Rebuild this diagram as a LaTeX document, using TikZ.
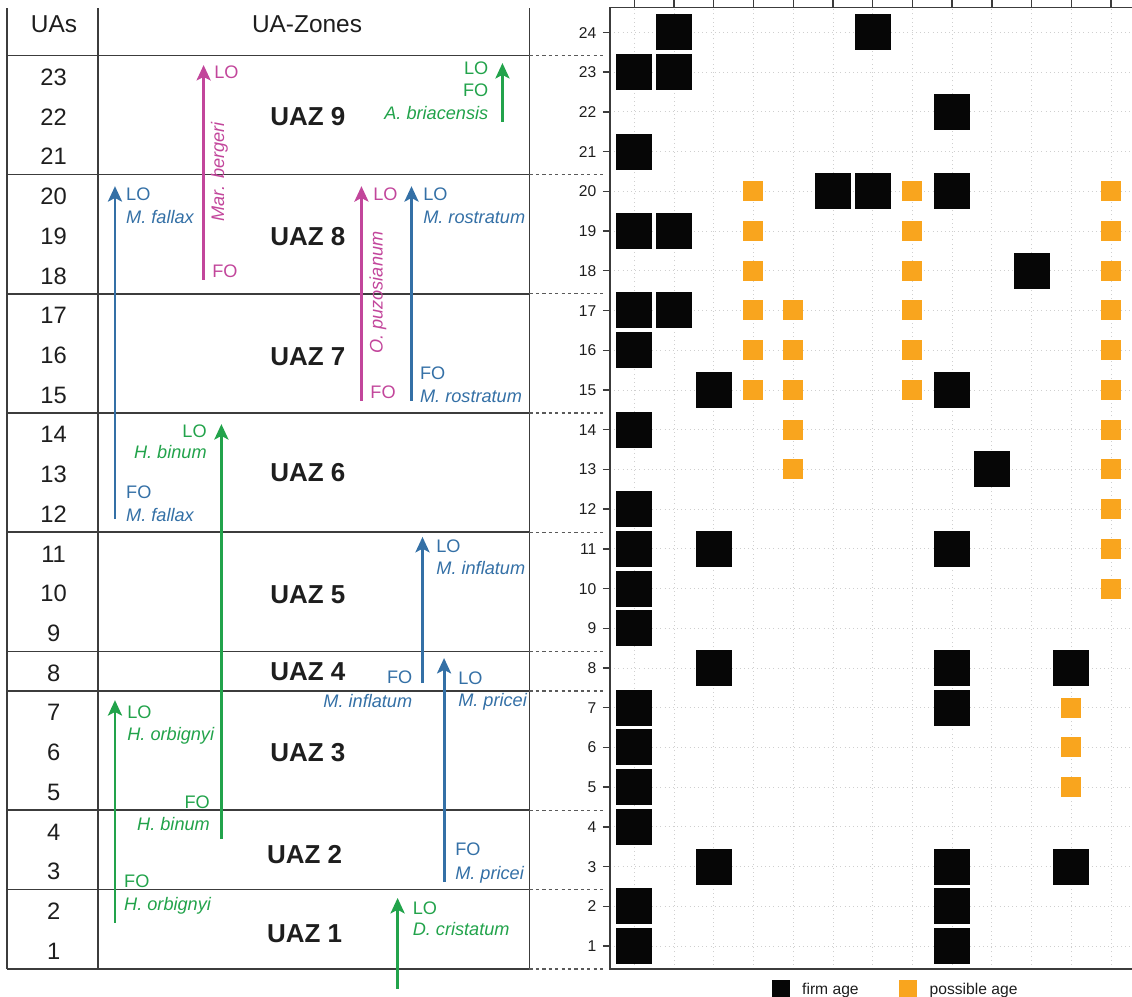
\documentclass[tikz,border=0pt]{standalone}
\usepackage{fontspec}
\setmainfont{Liberation Sans}
\usepackage{tikz}
\usetikzlibrary{arrows.meta}
\usetikzlibrary{positioning}

\definecolor{rulegray}{HTML}{3C3C3C}
\definecolor{tiegray}{HTML}{5A5A5A}
\definecolor{inkgray}{HTML}{1E1E1E}
\definecolor{gridgray}{HTML}{CFCFCF}
\definecolor{taxgreen}{HTML}{22A34B}
\definecolor{taxblue}{HTML}{3470A6}
\definecolor{taxpink}{HTML}{C2469B}
\definecolor{firmblack}{HTML}{060606}
\definecolor{possorange}{HTML}{F9A51E}

\newcommand\headfont{\fontsize{17.5}{21}\selectfont}
\newcommand\numfont{\fontsize{17}{20}\selectfont}
\newcommand\zonefont{\fontsize{18.6}{22}\selectfont\bfseries}
\newcommand\tagfont{\fontsize{13}{15}\selectfont}
\newcommand\tickfont{\fontsize{11.2}{13}\selectfont}

\tikzset{
  zonerule/.style={rulegray, line width=1.1pt},
  zonetie/.style={tiegray, line width=0.8pt, dash pattern=on 2.3pt off 2.3pt},
  lifespan/.style={line width=2.1pt, -{Stealth[length=11pt,width=10pt,inset=2.5pt]}},
  event/.style={inner sep=0pt, text height=9.3pt, text depth=0pt, font=\tagfont},
  taxon/.style={event, font=\tagfont\itshape},
  headtext/.style={inner sep=0pt, text height=12.5pt, text depth=0pt, text=inkgray, font=\headfont},
  uanum/.style={inner sep=0pt, text height=12.2pt, text depth=0pt, text=inkgray, font=\numfont},
  zonename/.style={inner sep=0pt, anchor=west, text height=13.3pt, text depth=0pt, text=inkgray, font=\zonefont},
  firm/.style={fill=firmblack, minimum size=0.906cm, inner sep=0pt},
  possible/.style={fill=possorange, minimum size=0.503cm, inner sep=0pt},
  gridline/.style={gridgray, line width=0.6pt, dash pattern=on 0.6pt off 2.4pt},
  axisline/.style={rulegray, line width=1pt},
  ticklabel/.style={inner sep=0pt, anchor=east, text height=8pt, text depth=0pt, text=inkgray, font=\tickfont},
  keytext/.style={inner sep=0pt, anchor=base west, text=inkgray, font=\tickfont},
}

% one taxon range: colour, name, x, first occurrence, last occurrence
\newcommand\taxrange[5]{
  \coordinate (#2-fo) at (#3,#4);
  \coordinate (#2-lo) at (#3,#5);
  \draw[lifespan, #1] (#2-fo) -- (#2-lo);
}

\begin{document}
\begin{tikzpicture}
  \useasboundingbox (0,-0.259) rectangle (28.50,24.817);

  % table of unitary associations
  \begin{scope}[yshift=-0.08cm]

    \foreach \x in {0.18,2.47,13.33} {
      \draw[zonerule] (\x,0.5) -- (\x,24.7);
    }
    \foreach \b in {23.5,20.5,17.5,14.5,11.5,8.5,7.5,4.5,2.5,0.5} {
      \draw[zonerule] (0.18,\b) -- (13.33,\b);
      \draw[zonetie] (13.33,\b) -- (15.23,\b);
    }

    \node[headtext] (uas) at (1.36,24.31) {UAs};
    \node[headtext] (uazones) at (7.73,24.31) {UA-Zones};

    \foreach \i in {1,...,23} {
      \node[uanum] (ua\i) at (1.35,\i-0.04) {\i};
    }

    \foreach \z/\y/\x in {9/21.98/6.80,8/18.95/6.80,7/15.93/6.80,6/13.0/6.80,
                          5/9.94/6.80,4/8.0/6.80,3/5.96/6.80,2/3.40/6.72,1/1.41/6.72} {
      \node[zonename] (uaz\z) at (\x,\y) {UAZ \z};
    }

    \taxrange{taxpink}{bergeri}{5.126}{17.85}{23.26}
    \node[event, taxpink, anchor=west] (bergeri-lotag) at (5.39,23.08) {LO};
    \node[event, taxpink, anchor=west] (bergeri-fotag) at (5.34,18.07) {FO};
    \node[taxon, taxpink, rotate=90] (bergeri-name) at (5.48,20.57) {Mar. bergeri};

    \taxrange{taxgreen}{briacensis}{12.65}{21.83}{23.31}
    \node[event, taxgreen, anchor=east] (briacensis-lotag) at (12.30,23.18) {LO};
    \node[event, taxgreen, anchor=east] (briacensis-fotag) at (12.30,22.63) {FO};
    \node[taxon, taxgreen, anchor=east] (briacensis-name) at (12.30,22.05) {A. briacensis};

    \taxrange{taxblue}{fallax}{2.895}{11.83}{20.21}
    \node[event, taxblue, anchor=west] (fallax-lotag) at (3.17,20.01) {LO};
    \node[taxon, taxblue, anchor=west] (fallax-loname) at (3.17,19.43) {M. fallax};
    \node[event, taxblue, anchor=west] (fallax-fotag) at (3.17,12.51) {FO};
    \node[taxon, taxblue, anchor=west] (fallax-foname) at (3.17,11.93) {M. fallax};

    \taxrange{taxpink}{puzosianum}{9.10}{14.81}{20.21}
    \node[event, taxpink, anchor=west] (puzosianum-lotag) at (9.39,20.01) {LO};
    \node[event, taxpink, anchor=west] (puzosianum-fotag) at (9.32,15.04) {FO};
    \node[taxon, taxpink, rotate=90] (puzosianum-name) at (9.47,17.53) {O. puzosianum};

    \taxrange{taxblue}{rostratum}{10.36}{14.81}{20.21}
    \node[event, taxblue, anchor=west] (rostratum-lotag) at (10.65,20.01) {LO};
    \node[taxon, taxblue, anchor=west] (rostratum-loname) at (10.65,19.43) {M. rostratum};
    \node[event, taxblue, anchor=west] (rostratum-fotag) at (10.57,15.51) {FO};
    \node[taxon, taxblue, anchor=west] (rostratum-foname) at (10.57,14.93) {M. rostratum};

    \taxrange{taxgreen}{binum}{5.574}{3.77}{14.22}
    \node[event, taxgreen, anchor=east] (binum-lotag) at (5.21,14.05) {LO};
    \node[taxon, taxgreen, anchor=east] (binum-loname) at (5.21,13.52) {H. binum};
    \node[event, taxgreen, anchor=east] (binum-fotag) at (5.29,4.71) {FO};
    \node[taxon, taxgreen, anchor=east] (binum-foname) at (5.29,4.15) {H. binum};

    \taxrange{taxblue}{inflatum}{10.637}{7.70}{11.38}
    \node[event, taxblue, anchor=west] (inflatum-lotag) at (10.98,11.15) {LO};
    \node[taxon, taxblue, anchor=west] (inflatum-loname) at (10.98,10.60) {M. inflatum};
    \node[event, taxblue, anchor=east] (inflatum-fotag) at (10.385,7.85) {FO};
    \node[taxon, taxblue, anchor=east] (inflatum-foname) at (10.385,7.26) {M. inflatum};

    \taxrange{taxblue}{pricei}{11.18}{2.69}{8.33}
    \node[event, taxblue, anchor=west] (pricei-lotag) at (11.53,7.83) {LO};
    \node[taxon, taxblue, anchor=west] (pricei-loname) at (11.53,7.27) {M. pricei};
    \node[event, taxblue, anchor=west] (pricei-fotag) at (11.455,3.52) {FO};
    \node[taxon, taxblue, anchor=west] (pricei-foname) at (11.455,2.92) {M. pricei};

    \taxrange{taxgreen}{orbignyi}{2.895}{1.66}{7.27}
    \node[event, taxgreen, anchor=west] (orbignyi-lotag) at (3.20,6.97) {LO};
    \node[taxon, taxgreen, anchor=west] (orbignyi-loname) at (3.20,6.42) {H. orbignyi};
    \node[event, taxgreen, anchor=west] (orbignyi-fotag) at (3.12,2.72) {FO};
    \node[taxon, taxgreen, anchor=west] (orbignyi-foname) at (3.12,2.14) {H. orbignyi};

    \taxrange{taxgreen}{cristatum}{10.01}{0.0}{2.29}
    \node[event, taxgreen, anchor=west] (cristatum-lotag) at (10.385,2.04) {LO};
    \node[taxon, taxgreen, anchor=west] (cristatum-loname) at (10.385,1.51) {D. cristatum};

  \end{scope}

  % age plot
  \begin{scope}[shift={(14.97,0)}]

    \foreach \c in {1,...,13} {
      \draw[gridline] (\c,0.42) -- (\c,24.63);
      \draw[axisline] (\c,24.63) -- (\c,24.82);
    }
    \foreach \r in {1,...,24} {
      \draw[gridline] (0.39,\r) -- (13.53,\r);
      \draw[axisline] (0.21,\r) -- (0.39,\r);
      \node[ticklabel] (age\r) at (0.05,\r) {\r};
    }
    \draw[axisline] (13.53,24.63) -- (0.39,24.63) -- (0.39,0.42) -- (13.53,0.42);

    \foreach \r/\cols in {24/{2,7},23/{1,2},22/{9},21/{1},20/{6,7,9},19/{1,2},18/{11},
                          17/{1,2},16/{1},15/{3,9},14/{1},13/{10},12/{1},11/{1,3,9},
                          10/{1},9/{1},8/{3,9,12},7/{1,9},6/{1},5/{1},4/{1},3/{3,9,12},
                          2/{1,9},1/{1,9}} {
      \foreach \c in \cols {
        \node[firm] (firm-\r-\c) at (\c,\r) {};
      }
    }

    \foreach \r/\cols in {20/{4,8,13},19/{4,8,13},18/{4,8,13},17/{4,5,8,13},16/{4,5,8,13},
                          15/{4,5,8,13},14/{5,13},13/{5,13},12/{13},11/{13},10/{13},
                          7/{12},6/{12},5/{12}} {
      \foreach \c in \cols {
        \node[possible] (possible-\r-\c) at (\c,\r) {};
      }
    }

  \end{scope}

  % legend
  \node[firm, minimum size=0.453cm] (firmkey) at (19.675,-0.083) {};
  \node[keytext] (firmlabel) at (20.19,-0.224) {firm age};
  \node[possible, minimum size=0.453cm] (possiblekey) at (22.87,-0.083) {};
  \node[keytext] (possiblelabel) at (23.40,-0.224) {possible age};

\end{tikzpicture}
\end{document}
